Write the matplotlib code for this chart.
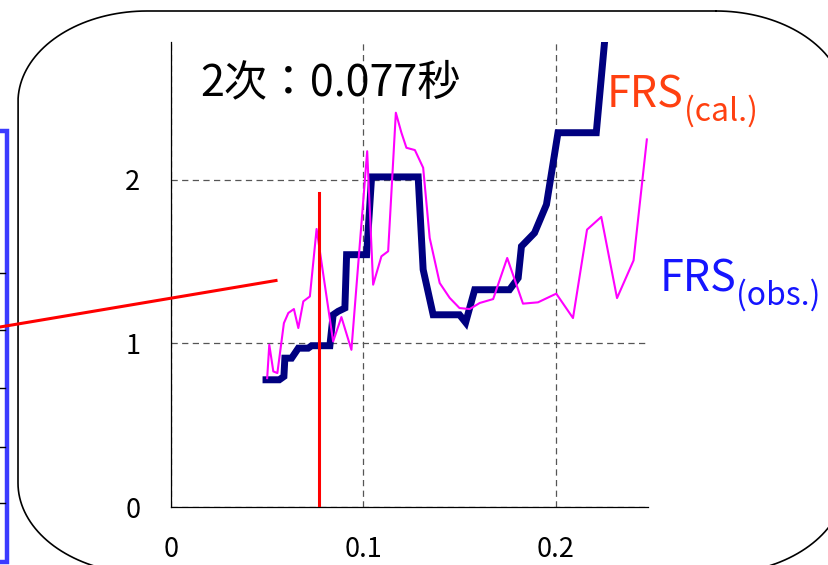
import matplotlib
matplotlib.use("Agg")
import matplotlib.pyplot as plt
import numpy as np
from matplotlib.patches import Rectangle

plt.rcParams['font.family'] = ['Noto Sans CJK JP', 'DejaVu Sans']

# FRS (cal.) - thick navy step-like curve
cal_t = [0.0494, 0.0563, 0.0587, 0.0592, 0.0627, 0.0662, 0.0713, 0.0731,
         0.0826, 0.0843, 0.0869, 0.0904, 0.0913, 0.1017, 0.1043, 0.1285,
         0.1311, 0.1363, 0.1500, 0.1532, 0.1579, 0.1760, 0.1805, 0.1822,
         0.1890, 0.1952, 0.2012, 0.2211, 0.2290]
cal_v = [0.777, 0.777, 0.797, 0.909, 0.909, 0.970, 0.970, 0.985,
         0.985, 1.174, 1.195, 1.215, 1.541, 1.541, 2.016, 2.016,
         1.450, 1.174, 1.174, 1.127, 1.327, 1.327, 1.399, 1.592,
         1.674, 1.847, 2.286, 2.286, 3.300]

# FRS (obs.) - thin magenta curve
obs_t = [0.0500, 0.0511, 0.0532, 0.0553, 0.0587, 0.0610, 0.0639, 0.0662,
         0.0688, 0.0722, 0.0757, 0.0843, 0.0886, 0.0938, 0.1020, 0.1051,
         0.1094, 0.1129, 0.1169, 0.1198, 0.1224, 0.1268, 0.1311, 0.1345,
         0.1397, 0.1449, 0.1500, 0.1553, 0.1605, 0.1675, 0.1748, 0.1830,
         0.1908, 0.2003, 0.2090, 0.2163, 0.2237, 0.2319, 0.2405, 0.2474]
obs_v = [0.787, 0.991, 0.828, 0.818, 1.123, 1.185, 1.209, 1.093,
         1.256, 1.286, 1.698, 1.011, 1.160, 0.960, 2.173, 1.358,
         1.531, 1.562, 2.408, 2.286, 2.194, 2.180, 2.072, 1.643,
         1.368, 1.277, 1.215, 1.209, 1.246, 1.270, 1.521, 1.242,
         1.250, 1.303, 1.154, 1.694, 1.772, 1.276, 1.506, 2.245]

# 2nd mode period
t2 = 0.077
t2_height = 1.92

xticks = [0, 0.1, 0.2]
xtick_labels = ['0', '0.1', '0.2']
yticks = [0, 1, 2]
ytick_labels = ['0', '1', '2']


def rounded_frame(x0, y0, x1, y1, rx, ry, n=40):
    # outline of a rectangle with elliptical corners, pixel coords (y down)
    pts = []
    corners = [(x1 - rx, y0 + ry, -90, 0), (x1 - rx, y1 - ry, 0, 90),
               (x0 + rx, y1 - ry, 90, 180), (x0 + rx, y0 + ry, 180, 270)]
    for cx, cy, a0, a1 in corners:
        a = np.radians(np.linspace(a0, a1, n))
        pts += list(zip(cx + rx * np.cos(a), cy + ry * np.sin(a)))
    pts.append(pts[0])
    return np.array(pts)


fig = plt.figure(figsize=(8.29, 5.65), dpi=100)
ax = fig.add_axes([171 / 829, 1 - 507 / 565, 477 / 829, 465 / 565])

ax.plot(cal_t, cal_v, color='#000080', lw=5, solid_joinstyle='miter', zorder=3)
ax.plot(obs_t, obs_v, color='#ff00ff', lw=1.5, zorder=4)
ax.plot([t2, t2], [0, t2_height], color='#ff0000', lw=2.2, zorder=5)

ax.set_xlim(0, 0.248)
ax.set_ylim(0, 2.84)
ax.set_xticks(xticks)
ax.set_xticklabels(xtick_labels)
ax.set_yticks(yticks)
ax.set_yticklabels(ytick_labels)
ax.tick_params(length=0, labelsize=19.5)
ax.tick_params(axis='y', pad=22)
ax.tick_params(axis='x', pad=21)
ax.grid(True, color='#555555', lw=0.9, linestyle=(0, (5, 3.5)), zorder=1)
for s in ['top', 'right']:
    ax.spines[s].set_visible(False)
for s in ['left', 'bottom']:
    ax.spines[s].set_linewidth(0.9)

# overlay in pixel coordinates for slide decorations and labels
ov = fig.add_axes([0, 0, 1, 1], zorder=10)
ov.patch.set_alpha(0)

frame = rounded_frame(18, 11, 845, 574, 129, 91)
ov.plot(frame[:, 0], frame[:, 1], color='black', lw=1.2)

ov.add_patch(Rectangle((-20, 131), 27.5, 431, fc='none', ec='#3b3bff', lw=3.2))
for yy in [273, 330, 388, 447, 503]:
    ov.plot([0, 5], [yy, yy], color='black', lw=1)

ov.plot([0, 276], [327, 280.5], color='#ff0000', lw=2.2)

ov.text(200, 95, '2次：0.077秒', fontsize=31, color='black', va='baseline')
ov.text(607, 108, 'FRS', fontsize=31, color='#ff4010', va='baseline')
ov.text(684, 121, '(cal.)', fontsize=23, color='#ff4010', va='baseline')
ov.text(660, 292, 'FRS', fontsize=31, color='#1515ff', va='baseline')
ov.text(736, 305, '(obs.)', fontsize=23, color='#1515ff', va='baseline')

ov.set_xlim(0, 829)
ov.set_ylim(565, 0)
ov.axis('off')

fig.savefig('out.png', dpi=100)
